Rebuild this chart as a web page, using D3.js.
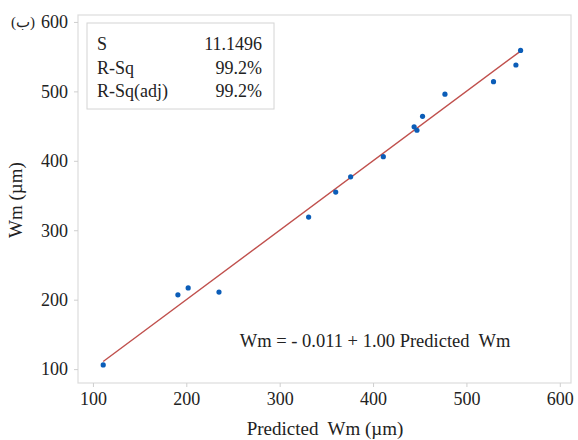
<!DOCTYPE html>
<html lang="en">
<head>
  <meta charset="UTF-8">
  <title>Fitted line plot</title>
</head>
<body style="margin:0;background:#fff">
  <script src="https://cdn.jsdelivr.net/npm/d3@7"></script>
  <script>
    const width = 578
    const height = 440

    const predicted = [111, 191, 202, 235, 331, 360, 376, 411, 444, 447, 453, 477, 529, 553, 558]
    const measured  = [106, 207, 217, 211, 319, 355, 377, 406, 449, 444, 464, 496, 514, 538, 559]
    const xTicks = [100, 200, 300, 400, 500, 600]
    const yTicks = [100, 200, 300, 400, 500, 600]
    const statNames = ["S", "R-Sq", "R-Sq(adj)"]
    const statValues = ["11.1496", "99.2%", "99.2%"]
    const intercept = -0.011
    const slope = 1.00

    const serif = "'Liberation Serif'"
    const m = { l: 78, r: 571, t: 15, b: 383 }

    const svg = d3.select("body").append("svg")
      .attr("width", width)
      .attr("height", height)

    const x = d3.scaleLinear().domain([84, 612]).range([m.l, m.r])
    const y = d3.scaleLinear().domain([80, 610]).range([m.b, m.t])

    function label(sel, size) {
      return sel.style("font-family", serif).style("font-size", size + "px").style("fill", "#222")
    }

    // frame
    svg.append("rect")
      .attr("x", m.l).attr("y", m.t)
      .attr("width", m.r - m.l).attr("height", m.b - m.t)
      .attr("fill", "none").attr("stroke", "#dcdcdc").attr("stroke-width", 1.2)

    const xAxis = svg.append("g")
      .attr("transform", "translate(0," + m.b + ")")
      .call(d3.axisBottom(x).tickValues(xTicks).tickSize(4).tickPadding(5))
    const yAxis = svg.append("g")
      .attr("transform", "translate(" + m.l + ",0)")
      .call(d3.axisLeft(y).tickValues(yTicks).tickSize(4).tickPadding(6))

    ;[xAxis, yAxis].forEach(a => {
      a.attr("font-family", null)
      a.select(".domain").remove()
      a.selectAll(".tick line").attr("stroke", "#cfcfcf")
      label(a.selectAll(".tick text"), 18)
    })

    // fitted line
    const x0 = d3.min(predicted), x1 = d3.max(predicted)
    svg.append("line")
      .attr("x1", x(x0)).attr("y1", y(intercept + slope * x0))
      .attr("x2", x(x1)).attr("y2", y(intercept + slope * x1))
      .attr("stroke", "#c0504d").attr("stroke-width", 1.4)

    // points
    svg.append("g").selectAll("circle")
      .data(predicted.map((p, i) => ({ p: p, w: measured[i] })))
      .enter().append("circle")
      .attr("cx", d => x(d.p))
      .attr("cy", d => y(d.w))
      .attr("r", 2.6)
      .attr("fill", "#0b5db8")

    // stats box
    const box = svg.append("g")
    box.append("rect")
      .attr("x", 87).attr("y", 23).attr("width", 187).attr("height", 86)
      .attr("fill", "#fff").attr("stroke", "#d4d4d4").attr("stroke-width", 1)
    statNames.forEach((n, i) => {
      label(box.append("text").attr("x", 97).attr("y", 50 + i * 23.5), 18).text(n)
      label(box.append("text").attr("x", 262).attr("y", 50 + i * 23.5), 18)
        .attr("text-anchor", "end").text(statValues[i])
    })

    // equation
    label(svg.append("text"), 18.5)
      .attr("x", 375).attr("y", 347)
      .attr("text-anchor", "middle")
      .style("white-space", "pre")
      .text("Wm = - 0.011 + 1.00 Predicted  Wm")

    // axis titles
    label(svg.append("text"), 19)
      .attr("x", 325).attr("y", 435)
      .attr("text-anchor", "middle")
      .style("white-space", "pre")
      .text("Predicted  Wm (µm)")
    label(svg.append("text"), 19)
      .attr("transform", "translate(22,200) rotate(-90)")
      .attr("text-anchor", "middle")
      .text("Wm (µm)")

    // panel mark
    label(svg.append("text"), 15)
      .attr("x", 23).attr("y", 27)
      .attr("text-anchor", "middle")
      .text("(ب)")
  </script>
</body>
</html>
